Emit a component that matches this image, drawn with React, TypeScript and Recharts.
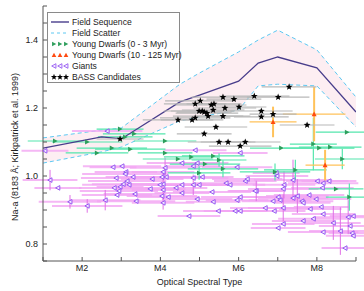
import React from "react";
import { ComposedChart, XAxis, YAxis, Line, Area, Scatter, ErrorBar, Label } from "recharts";

document.body.style.margin = "0";

// field sequence (spectral subtype, Na-a index)
const fieldType = [1, 2.5, 3, 4.5, 5, 6, 6.5, 7, 8, 9];
const fieldSeq = [1.082, 1.115, 1.109, 1.218, 1.238, 1.279, 1.332, 1.35, 1.318, 1.188];
const fieldUpper = [1.112, 1.135, 1.141, 1.27, 1.303, 1.365, 1.4, 1.429, 1.371, 1.232];
const fieldLower = [1.038, 1.071, 1.085, 1.162, 1.174, 1.194, 1.265, 1.27, 1.265, 1.144];

// [type, index, xerr, yerr]
const giants = [
  [2.64, 1.132, 0.9, 0], [1.05, 1.074, 0.6, 0], [4.89, 1.076, 0.8, 0], [6.04, 1.068, 0.7, 0],
  [2.79, 1.026, 0.6, 0], [3.02, 1.029, 1.0, 0], [3.12, 1.012, 0.8, 0], [3.1, 1.006, 1.1, 0],
  [3.3, 0.997, 0.7, 0], [2.87, 0.994, 0.9, 0], [1.18, 0.988, 0.7, 0.03], [3.15, 0.985, 1.0, 0],
  [3.05, 0.976, 0.8, 0], [3.2, 0.974, 1.2, 0], [2.82, 0.965, 0.9, 0], [2.97, 0.968, 0.6, 0],
  [2.94, 0.956, 1.0, 0], [1.38, 0.965, 0.6, 0], [2.89, 0.944, 0.9, 0], [3.35, 0.947, 0.8, 0],
  [1.69, 0.924, 0.8, 0.02], [2.59, 0.929, 0.9, 0.03], [3.38, 0.926, 1.0, 0], [2.13, 0.912, 0.9, 0.02],
  [4.55, 1.038, 0.9, 0], [4.84, 1.029, 0.7, 0], [4.94, 1.038, 0.8, 0], [4.12, 1.024, 0.9, 0.03],
  [4.07, 1.012, 0.8, 0], [4.04, 0.997, 0.7, 0], [4.15, 0.997, 1.0, 0], [4.84, 0.994, 0.9, 0],
  [5.07, 0.997, 0.8, 0], [5.96, 1.026, 0.9, 0], [3.79, 0.991, 0.8, 0], [4.07, 0.976, 1.1, 0.04],
  [3.99, 0.974, 0.8, 0], [4.55, 0.974, 0.9, 0], [4.4, 0.965, 0.8, 0], [4.84, 0.974, 1.0, 0.03],
  [4.99, 0.974, 0.8, 0], [3.74, 0.962, 0.9, 0], [4.07, 0.959, 0.8, 0], [4.55, 0.95, 0.7, 0],
  [5.32, 0.953, 1.0, 0], [5.68, 0.979, 0.8, 0], [5.78, 0.974, 0.9, 0], [6.17, 0.985, 0.8, 0],
  [6.22, 0.991, 0.9, 0], [6.45, 0.956, 0.7, 0.03], [6.04, 0.938, 1.0, 0], [5.96, 0.929, 0.8, 0],
  [4.04, 0.941, 0.9, 0], [4.2, 0.938, 0.8, 0], [4.94, 0.932, 0.9, 0], [5.35, 0.924, 0.7, 0],
  [4.07, 0.921, 0.8, 0.02], [5.48, 0.897, 0.9, 0], [5.91, 0.897, 0.8, 0], [6.04, 0.897, 0.7, 0],
  [4.73, 0.882, 0.8, 0], [6.96, 1.009, 0.6, 0], [6.98, 1.0, 0.8, 0], [7.39, 0.988, 1.0, 0.06],
  [8.01, 0.985, 0.8, 0], [8.16, 0.979, 0.9, 0], [8.31, 0.985, 0.7, 0], [7.16, 0.974, 0.8, 0.04],
  [7.14, 0.962, 0.9, 0], [8.14, 0.965, 0.8, 0], [6.42, 0.956, 0.7, 0], [7.8, 0.944, 0.9, 0],
  [7.5, 0.941, 0.8, 0.05], [7.01, 0.938, 1.0, 0], [6.88, 0.926, 0.8, 0], [7.39, 0.935, 0.9, 0],
  [7.62, 0.926, 0.8, 0], [7.98, 0.932, 0.9, 0], [7.65, 0.921, 0.7, 0], [7.06, 0.929, 0.8, 0],
  [6.68, 0.906, 0.9, 0], [6.91, 0.897, 0.8, 0], [7.14, 0.906, 0.9, 0.04], [7.83, 0.903, 0.8, 0],
  [8.11, 0.909, 0.7, 0], [8.16, 0.888, 0.8, 0], [8.8, 0.879, 0.9, 0.05], [8.93, 0.882, 0.6, 0],
  [7.65, 0.868, 0.8, 0], [7.91, 0.874, 0.9, 0], [8.42, 0.862, 0.7, 0.05], [7.14, 0.859, 0.8, 0],
  [8.85, 0.853, 0.8, 0], [7.01, 0.847, 0.7, 0], [8.16, 0.835, 0.9, 0], [8.6, 0.838, 0.8, 0.07],
  [8.9, 0.832, 0.6, 0], [8.93, 0.824, 0.7, 0], [8.72, 0.788, 0.6, 0],
];

const youngOld = [
  [1.31, 1.103, 0.7, 0], [2.13, 1.1, 0.9, 0], [2.97, 1.138, 0.6, 0], [3.1, 1.115, 0.7, 0],
  [3.33, 1.124, 0.8, 0], [2.76, 1.082, 0.9, 0], [3.23, 1.079, 0.9, 0], [2.38, 1.068, 0.8, 0],
  [4.12, 1.103, 0.8, 0], [4.12, 1.068, 0.7, 0], [4.45, 1.05, 0.9, 0], [4.79, 1.056, 0.7, 0],
  [5.35, 1.059, 0.8, 0], [5.5, 1.047, 0.7, 0.02], [5.14, 1.035, 0.9, 0], [4.99, 1.009, 0.8, 0.02],
  [5.6, 1.021, 0.9, 0.025], [7.09, 1.082, 0.8, 0], [7.91, 1.094, 0.6, 0.077], [8.06, 1.082, 0.9, 0],
  [8.34, 1.085, 0.8, 0], [8.77, 1.129, 0.8, 0], [8.65, 1.05, 0.7, 0.03], [6.93, 1.012, 0.9, 0.025],
  [7.45, 1.018, 0.8, 0.03], [8.49, 0.962, 0.7, 0], [8.83, 0.938, 0.6, 0.04],
];

const youngMid = [
  [7.93, 1.182, 0.8, 0.08], [6.88, 1.159, 0.6, 0.045], [8.21, 1.032, 0.5, 0.045],
];

// [type, index, xerr]
const bass = [
  [7.29, 1.262, 0.7], [5.6, 1.232, 0.8], [5.88, 1.226, 0.7], [6.4, 1.235, 0.9],
  [7.01, 1.232, 0.8], [5.02, 1.221, 0.9], [4.89, 1.212, 0.8], [5.3, 1.209, 0.9],
  [5.37, 1.212, 0.7], [5.65, 1.2, 0.8], [6.01, 1.203, 0.7], [5.35, 1.194, 0.8],
  [4.99, 1.191, 0.9], [5.07, 1.191, 0.8], [5.12, 1.188, 0.7], [5.19, 1.185, 0.8],
  [5.22, 1.176, 0.9], [5.6, 1.176, 0.7], [6.58, 1.191, 0.8], [6.88, 1.182, 0.6],
  [6.58, 1.174, 0.7], [4.89, 1.171, 0.9], [4.81, 1.165, 0.8], [5.42, 1.144, 0.8],
  [5.12, 1.124, 0.7], [7.75, 1.15, 0.7], [5.5, 1.1, 0.8], [5.73, 1.1, 0.7],
  [6.17, 1.1, 0.9], [6.04, 1.088, 0.8], [4.45, 1.165, 0.9], [2.97, 1.109, 0.6],
];

const xTicks = [1, 2, 3, 4, 5, 6, 7, 8, 9];
const xLabelTicks = [2, 4, 6, 8];
const yTicks = [0.75, 0.8, 0.85, 0.9, 0.95, 1.0, 1.05, 1.1, 1.15, 1.2, 1.25, 1.3, 1.35, 1.4, 1.45, 1.5];
const yLabelTicks = [0.8, 1.0, 1.2, 1.4];

const fieldData = fieldType.map((t, i) => ({
  t,
  seq: fieldSeq[i],
  upper: fieldUpper[i],
  lower: fieldLower[i],
  band: [fieldLower[i], fieldUpper[i]],
}));
const toPts = (rows: number[][]) => rows.map(r => ({ t: r[0], v: r[1], xe: r[2], ye: r[3] ?? 0 }));

const FONT = "'Liberation Sans', Arial, Helvetica, sans-serif";
const C = {
  seq: "#483d8b",
  scatter: "#5cc8f2",
  band: "#fdeef2",
  green: "#2e9e5c",
  greenBar: "#55e6ad",
  orange: "#ff4a10",
  orangeBar: "#ffc25a",
  giant: "#8e4cf0",
  giantBar: "#f2a6f2",
  giantVBar: "#e070e6",
  bassBar: "#b8b8b8",
};

const leftTri = (cx: number, cy: number, s: number) =>
  `${cx - s},${cy} ${cx + s * 0.85},${cy - s} ${cx + s * 0.85},${cy + s}`;
const rightTri = (cx: number, cy: number, s: number) =>
  `${cx + s},${cy} ${cx - s * 0.85},${cy - s} ${cx - s * 0.85},${cy + s}`;
const upTri = (cx: number, cy: number, s: number) =>
  `${cx},${cy - s} ${cx - s},${cy + s * 0.85} ${cx + s},${cy + s * 0.85}`;
const starPts = (cx: number, cy: number, r: number) => {
  const p: string[] = [];
  for (let i = 0; i < 10; i++) {
    const a = -Math.PI / 2 + (i * Math.PI) / 5;
    const rr = i % 2 === 0 ? r : r * 0.42;
    p.push(`${cx + rr * Math.cos(a)},${cy + rr * Math.sin(a)}`);
  }
  return p.join(" ");
};

const GiantShape = (p: any) => (
  <polygon points={leftTri(p.cx, p.cy, 2.3)} fill="#f3ecff" stroke={C.giant} strokeWidth={0.9} />
);
const GreenShape = (p: any) => <polygon points={rightTri(p.cx, p.cy, 2.5)} fill={C.green} />;
const OrangeShape = (p: any) => <polygon points={upTri(p.cx, p.cy, 2.5)} fill={C.orange} />;
const StarShape = (p: any) => <polygon points={starPts(p.cx, p.cy, 3.6)} fill="#000" />;

function LegendBox() {
  const rows: [string, React.ReactNode][] = [
    ["Field Sequence", <line x1={2} y1={5} x2={20} y2={5} stroke={C.seq} strokeWidth={1.4} />],
    ["Field Scatter", <line x1={2} y1={5} x2={20} y2={5} stroke={C.scatter} strokeWidth={1} strokeDasharray="3 3" />],
    ["Young Dwarfs (0 - 3 Myr)", <g>{[5, 11, 17].map(x => <polygon key={x} points={rightTri(x, 5, 2.3)} fill={C.green} />)}</g>],
    ["Young Dwarfs (10 - 125 Myr)", <g>{[5, 11, 17].map(x => <polygon key={x} points={upTri(x, 5, 2.3)} fill={C.orange} />)}</g>],
    ["Giants", <g>{[5, 11, 17].map(x => <polygon key={x} points={leftTri(x, 5, 2.3)} fill="#f3ecff" stroke={C.giant} strokeWidth={0.8} />)}</g>],
    ["BASS Candidates", <g>{[5, 11, 17].map(x => <polygon key={x} points={starPts(x, 5, 3.3)} fill="#000" />)}</g>],
  ];
  return (
    <div
      style={{
        position: "absolute", left: 47, top: 12, width: 133, height: 71,
        background: "#fff", border: "1px solid #8a8a8a", boxSizing: "border-box",
        fontFamily: FONT, fontSize: 8.6, color: "#222",
      }}
    >
      {rows.map(([label, icon], i) => (
        <div key={label} style={{ position: "absolute", left: 1, top: 3 + i * 11, height: 11, display: "flex", alignItems: "center", whiteSpace: "nowrap" }}>
          <svg width={22} height={10} style={{ marginRight: 1 }}>{icon}</svg>
          <span>{label}</span>
        </div>
      ))}
    </div>
  );
}

export default function App() {
  const tickStyle = { fill: "#222", fontSize: 9, fontFamily: FONT };
  return (
    <div style={{ position: "relative", width: 364, height: 291, background: "#fff", fontFamily: FONT }}>
      <ComposedChart width={364} height={291} margin={{ top: 6, right: 8, bottom: 0, left: 0 }}>
        <XAxis
          dataKey="t" type="number" domain={[1, 9]} ticks={xTicks} interval={0} allowDataOverflow
          tickFormatter={(t: number) => (xLabelTicks.includes(t) ? `M${t}` : "")}
          tick={tickStyle} tickSize={-4} tickMargin={8} height={30}
          axisLine={{ stroke: "#555" }} tickLine={{ stroke: "#555" }}
        >
          <Label
            content={() => (
              <text x={199.5} y={283} textAnchor="middle" dominantBaseline="middle" fontSize={9} fontFamily={FONT} fill="#222">
                Optical Spectral Type
              </text>
            )}
          />
        </XAxis>
        <XAxis
          xAxisId="top" orientation="top" type="number" domain={[1, 9]} ticks={xTicks} interval={0}
          tick={false} tickSize={-4} height={0} axisLine={{ stroke: "#555" }} tickLine={{ stroke: "#555" }}
        />
        <YAxis
          dataKey="v" type="number" domain={[0.75, 1.5]} ticks={yTicks} interval={0} allowDataOverflow
          tickFormatter={(v: number) => (yLabelTicks.some(l => Math.abs(l - v) < 1e-6) ? v.toFixed(1) : "")}
          tick={tickStyle} tickSize={-4} tickMargin={9} width={43}
          axisLine={{ stroke: "#555" }} tickLine={{ stroke: "#555" }}
        >
          <Label
            content={() => (
              <text x={16} y={147} transform="rotate(-90 16 147)" textAnchor="middle" dominantBaseline="middle" fontSize={9} fontFamily={FONT} fill="#222">
                Na-a (8183 Å; Kirkpatrick et al. 1999)
              </text>
            )}
          />
        </YAxis>
        <YAxis
          yAxisId="r" orientation="right" type="number" domain={[0.75, 1.5]} ticks={yTicks} interval={0}
          tick={false} tickSize={-4} width={0} axisLine={{ stroke: "#555" }} tickLine={{ stroke: "#555" }}
        />

        <Area data={fieldData} dataKey="band" type="linear" stroke="none" fill={C.band} fillOpacity={1} isAnimationActive={false} />
        <Line data={fieldData} dataKey="upper" type="linear" stroke={C.scatter} strokeWidth={1} strokeDasharray="4 3" dot={false} isAnimationActive={false} />
        <Line data={fieldData} dataKey="lower" type="linear" stroke={C.scatter} strokeWidth={1} strokeDasharray="4 3" dot={false} isAnimationActive={false} />

        <Scatter data={toPts(giants)} dataKey="v" shape={GiantShape} isAnimationActive={false}>
          <ErrorBar dataKey="xe" direction="x" width={0} stroke={C.giantBar} strokeWidth={2} strokeOpacity={0.8} />
          <ErrorBar dataKey="ye" direction="y" width={0} stroke={C.giantVBar} strokeWidth={1} />
        </Scatter>
        <Scatter data={toPts(youngOld)} dataKey="v" shape={GreenShape} isAnimationActive={false}>
          <ErrorBar dataKey="xe" direction="x" width={0} stroke={C.greenBar} strokeWidth={1.2} />
          <ErrorBar dataKey="ye" direction="y" width={0} stroke={C.greenBar} strokeWidth={1.2} />
        </Scatter>
        <Scatter data={toPts(youngMid)} dataKey="v" shape={OrangeShape} isAnimationActive={false}>
          <ErrorBar dataKey="xe" direction="x" width={0} stroke={C.orangeBar} strokeWidth={1.2} />
          <ErrorBar dataKey="ye" direction="y" width={0} stroke={C.orangeBar} strokeWidth={2} />
        </Scatter>

        <Line data={fieldData} dataKey="seq" type="linear" stroke={C.seq} strokeWidth={1.3} dot={false} isAnimationActive={false} />

        <Scatter data={toPts(bass)} dataKey="v" shape={StarShape} isAnimationActive={false}>
          <ErrorBar dataKey="xe" direction="x" width={0} stroke={C.bassBar} strokeWidth={1.1} />
        </Scatter>
      </ComposedChart>
      <LegendBox />
    </div>
  );
}
